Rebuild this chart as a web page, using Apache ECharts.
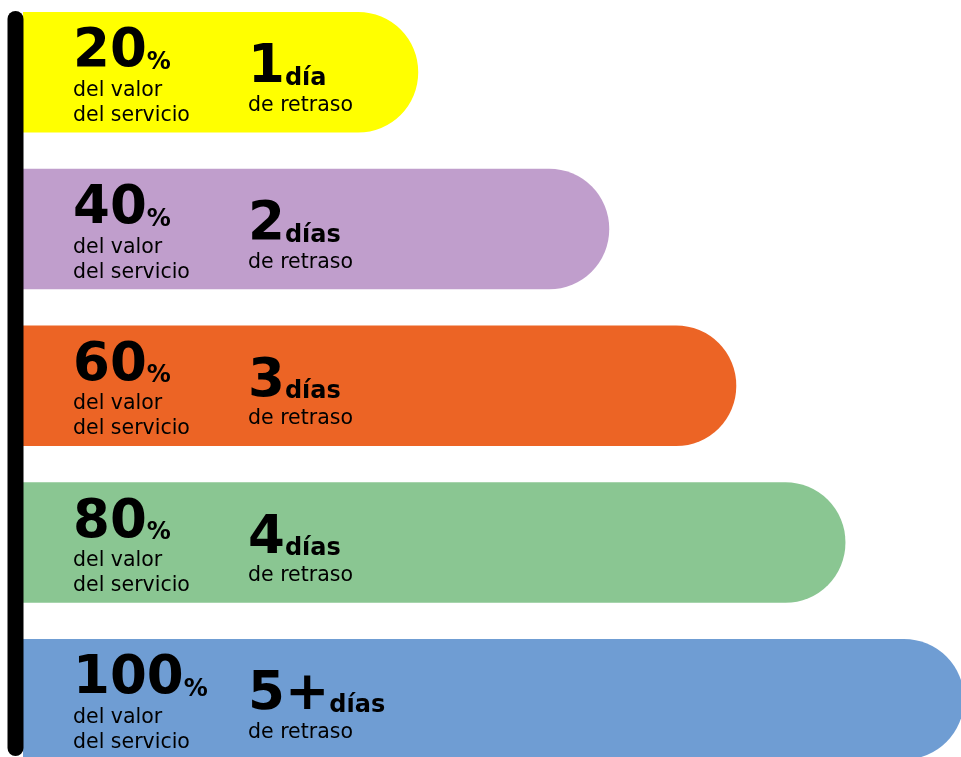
<!DOCTYPE html>
<html>
<head>
<meta charset="utf-8">
<script src="https://cdn.jsdelivr.net/npm/echarts@6/dist/echarts.min.js"></script>
<style>
html,body{margin:0;padding:0;background:#fff;}
#chart{width:961px;height:757px;}
</style>
</head>
<body>
<div id="chart"></div>
<script>
// Data
var categories = ['20%', '40%', '60%', '80%', '100%'];
var percentValues = ['20', '40', '60', '80', '100'];
var dayValues = ['1', '2', '3', '4', '5+'];
var dayUnits = ['día', 'días', 'días', 'días', 'días'];
var barLengths = [42.0, 62.3, 75.8, 87.4, 100];
var barColors = ['#FFFF00', '#C09ECC', '#EC6425', '#8AC692', '#6F9DD3'];

var FONT = 'DejaVu Sans';
var chart = echarts.init(document.getElementById('chart'), null, {renderer: 'canvas'});

var richStyles = {
  big: {fontFamily: FONT, fontWeight: 'bold', fontSize: 53, lineHeight: 50, color: '#000', verticalAlign: 'bottom'},
  small: {fontFamily: FONT, fontWeight: 'bold', fontSize: 24, color: '#000', verticalAlign: 'bottom', padding: [0, 0, 4.5, 0]},
  subA: {fontFamily: FONT, fontSize: 20.5, lineHeight: 22, color: '#000', verticalAlign: 'bottom'},
  sub: {fontFamily: FONT, fontSize: 20.5, lineHeight: 25, color: '#000', verticalAlign: 'bottom'},
  subR: {fontFamily: FONT, fontSize: 20.5, lineHeight: 21, color: '#000', verticalAlign: 'bottom'}
};

var option = {
  animation: false,
  backgroundColor: '#fff',
  grid: {left: 23, right: -3, top: -6.1, height: 783.75, outerBoundsMode: 'none', containLabel: false},
  xAxis: {type: 'value', min: 0, max: 100, show: false},
  yAxis: {type: 'category', data: categories, inverse: true, show: false},
  series: [
    {
      type: 'bar',
      barWidth: 120.5,
      data: barLengths.map(function (v, i) {
        return {value: v, itemStyle: {color: barColors[i]}};
      }),
      itemStyle: {borderRadius: [0, 60, 60, 0]},
      label: {
        show: true,
        position: [50, 17],
        align: 'left',
        verticalAlign: 'top',
        formatter: function (p) {
          return '{big|' + percentValues[p.dataIndex] + '}{small|%}\n{subA|del valor}\n{sub|del servicio}';
        },
        rich: richStyles
      }
    },
    {
      type: 'bar',
      barWidth: 120.5,
      barGap: '-100%',
      z: 3,
      data: barLengths,
      itemStyle: {color: 'rgba(0,0,0,0)'},
      label: {
        show: true,
        position: [225, 33],
        align: 'left',
        verticalAlign: 'top',
        formatter: function (p) {
          return '{big|' + dayValues[p.dataIndex] + '}{small|' + dayUnits[p.dataIndex] + '}\n{subR|de retraso}';
        },
        rich: richStyles
      }
    }
  ],
  graphic: [
    {
      type: 'rect',
      z: 10,
      shape: {x: 7.5, y: 11, width: 16, height: 745, r: 8},
      style: {fill: '#000'}
    }
  ]
};
chart.setOption(option);
</script>
</body>
</html>
